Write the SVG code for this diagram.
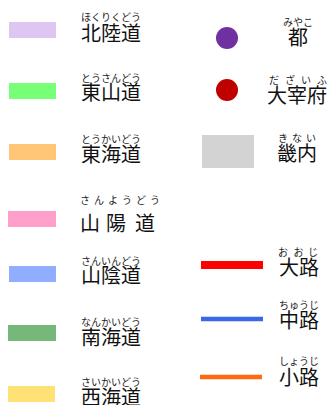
<svg xmlns="http://www.w3.org/2000/svg" width="331" height="405" viewBox="0 0 331 405">
<style>
.b{font-family:"Noto Sans CJK JP","Noto Sans",sans-serif;font-size:20px;fill:#111}
.r{font-family:"Noto Sans CJK JP","Noto Sans",sans-serif;font-size:10px;fill:#222}
.sw{stroke:none}
</style>
<rect width="331" height="405" fill="#ffffff"/>
<g id="hokurikudo">
<rect x="9" y="22" width="47" height="16" fill="#DFC5F1"/>
<text class="r" x="86 96 106 116 126 136" y="21" text-anchor="middle">ほくりくどう</text>
<text class="b" x="81" y="41">北陸道</text>
</g>
<g id="tosando">
<rect x="9" y="83" width="47" height="16" fill="#77FF77"/>
<text class="r" x="86 96 106 116 126 136" y="82" text-anchor="middle">とうさんどう</text>
<text class="b" x="81" y="100">東山道</text>
</g>
<g id="tokaido">
<rect x="9" y="144" width="47" height="16" fill="#FFC676"/>
<text class="r" x="86 96 106 116 126 136" y="143" text-anchor="middle">とうかいどう</text>
<text class="b" x="81" y="162">東海道</text>
</g>
<g id="sanyodo">
<rect x="8" y="211" width="48" height="16" fill="#FF9FCC"/>
<text class="r" x="85 99 113 127 141 155" y="204" text-anchor="middle">さんようどう</text>
<text class="b" x="90 116 145" y="231" text-anchor="middle">山陽道</text>
</g>
<g id="saindo">
<rect x="9" y="266" width="47" height="16" fill="#91ADFF"/>
<text class="r" x="86 96 106 116 126 136" y="265" text-anchor="middle">さんいんどう</text>
<text class="b" x="81" y="283">山陰道</text>
</g>
<g id="nankaido">
<rect x="8" y="325" width="48" height="16" fill="#75B879"/>
<text class="r" x="86 96 106 116 126 136" y="326" text-anchor="middle">なんかいどう</text>
<text class="b" x="81" y="345">南海道</text>
</g>
<g id="saikaido">
<rect x="8" y="386" width="47" height="16" fill="#FFE175"/>
<text class="r" x="86 96 106 116 126 136" y="386" text-anchor="middle">さいかいどう</text>
<text class="b" x="81" y="405">西海道</text>
</g>
<g id="miyako">
<circle cx="227" cy="38" r="11" fill="#7030A0"/>
<text class="r" x="288 298 308" y="26" text-anchor="middle">みやこ</text>
<text class="b" x="298" y="45" text-anchor="middle">都</text>
</g>
<g id="dazaifu">
<circle cx="227" cy="90" r="11" fill="#C00000"/>
<text class="r" x="274 290 306 322" y="84" text-anchor="middle">だざいふ</text>
<text class="b" x="297" y="103" text-anchor="middle">大宰府</text>
</g>
<g id="kinai">
<rect x="202" y="135" width="52" height="33" fill="#D3D3D3"/>
<text class="r" x="283 297 311" y="142" text-anchor="middle">きない</text>
<text class="b" x="297" y="161" text-anchor="middle">畿内</text>
</g>
<g id="connectors">
<line x1="201" y1="265" x2="263" y2="265" stroke="#FF0000" stroke-width="8"/>
<line x1="201" y1="319" x2="263" y2="319" stroke="#3A66E8" stroke-width="4.5"/>
<line x1="200" y1="377" x2="262" y2="377" stroke="#FF6A10" stroke-width="4.5"/>
</g>
<g id="oji">
<text class="r" x="283 298.5 313" y="256" text-anchor="middle">おおじ</text>
<text class="b" x="279" y="275">大路</text>
</g>
<g id="chuji">
<text class="r" x="284 294 304 314" y="309" text-anchor="middle">ちゅうじ</text>
<text class="b" x="279" y="328">中路</text>
</g>
<g id="shoji">
<text class="r" x="284 294 304 314" y="365" text-anchor="middle">しょうじ</text>
<text class="b" x="279" y="385">小路</text>
</g>
</svg>
